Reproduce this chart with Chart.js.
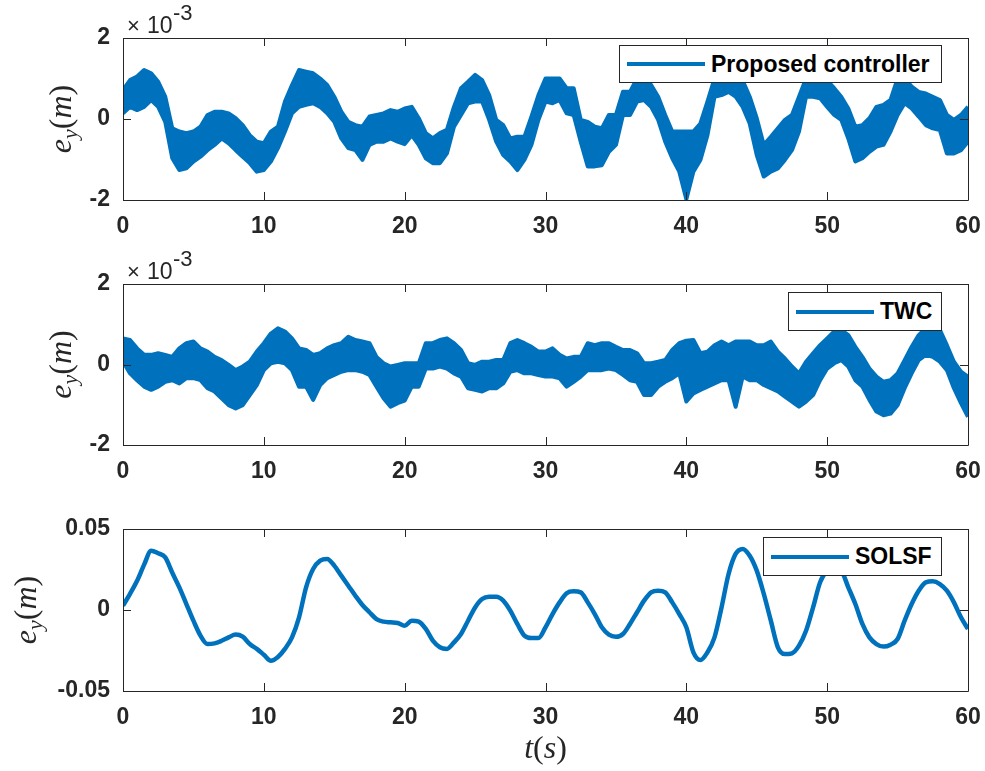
<!DOCTYPE html>
<html>
<head>
<meta charset="utf-8">
<script src="https://cdn.jsdelivr.net/npm/chart.js@4.4.1/dist/chart.umd.min.js"></script>
<style>
  body { margin: 0; background: #fff; }
  #wrap { position: relative; width: 985px; height: 771px; overflow: hidden; }
  #wrap canvas { position: absolute; left: 0; }
  .legend {
    position: absolute; z-index: 2; background: #fff; border: 1px solid #262626;
    box-sizing: border-box; display: flex; align-items: center;
    font: bold 23px 'Liberation Sans', Arial, sans-serif; color: #000; white-space: nowrap;
  }
  .legend .swatch { width: 78px; height: 4px; background: #0072bd; margin: 0 6px 0 7px; flex: none; }
</style>
</head>
<body>
<div id="wrap">
  <canvas id="propChart" width="985" height="240" style="top:0px"></canvas>
  <canvas id="twcChart" width="985" height="240" style="top:244px"></canvas>
  <canvas id="solsfChart" width="985" height="283" style="top:488px"></canvas>
  <div class="legend" id="leg0" style="left:619px;top:45px;width:323px;height:38px"></div>
  <div class="legend" id="leg1" style="left:788px;top:292px;width:154px;height:39px"></div>
  <div class="legend" id="leg2" style="left:763px;top:537px;width:179px;height:39px"></div>
</div>
<script>
// time axis (s), one sample every 0.5 s
const timeS = [0,0.5,1,1.5,2,2.5,3,3.5,4,4.5,5,5.5,6,6.5,7,7.5,8,8.5,9,9.5,10,10.5,11,11.5,12,12.5,13,13.5,14,14.5,15,15.5,16,16.5,17,17.5,18,18.5,19,19.5,20,20.5,21,21.5,22,22.5,23,23.5,24,24.5,25,25.5,26,26.5,27,27.5,28,28.5,29,29.5,30,30.5,31,31.5,32,32.5,33,33.5,34,34.5,35,35.5,36,36.5,37,37.5,38,38.5,39,39.5,40,40.5,41,41.5,42,42.5,43,43.5,44,44.5,45,45.5,46,46.5,47,47.5,48,48.5,49,49.5,50,50.5,51,51.5,52,52.5,53,53.5,54,54.5,55,55.5,56,56.5,57,57.5,58,58.5,59,59.5,60];

const legendLabels = ['Proposed controller', 'TWC', 'SOLSF'];

// proposed controller, noisy band: upper / lower envelope (x 10^-3 m)
const propUpper = [
  0.72,0.96,1.05,1.21,1.13,0.92,0.55,-0.23,-0.31,-0.35,
  -0.31,-0.19,0.10,0.18,0.18,0.14,0.02,-0.15,-0.40,-0.56,
  -0.60,-0.31,-0.19,0.43,0.84,1.21,1.17,1.13,1.00,0.84,
  0.55,0.18,-0.07,-0.15,-0.19,0.06,0.10,0.14,0.22,0.18,
  0.26,0.30,0.02,-0.35,-0.48,-0.35,-0.27,0.30,0.76,0.92,
  1.09,0.96,0.59,-0.02,-0.15,-0.48,-0.44,-0.44,0.06,0.59,
  1.00,1.00,1.00,0.76,0.76,-0.02,-0.07,-0.19,-0.23,0.10,
  0.10,0.67,0.67,1.00,0.96,0.84,0.55,0.10,-0.31,-0.31,
  -0.31,-0.31,-0.11,0.43,1.00,1.05,1.05,1.00,0.95,0.55,
  0.02,-0.64,-0.44,-0.23,-0.02,0.10,0.55,1.00,1.00,1.00,
  0.95,0.76,0.55,0.26,-0.19,-0.15,0.02,0.30,0.35,0.47,
  1.00,1.00,0.80,0.67,0.63,0.55,0.47,0.10,-0.02,0.10,
  0.30];
const propLower = [
  0.14,0.30,0.22,0.30,0.47,0.30,-0.07,-0.97,-1.26,-1.22,
  -1.05,-0.93,-0.77,-0.64,-0.48,-0.60,-0.77,-0.93,-1.09,-1.30,
  -1.26,-1.05,-0.72,-0.31,0.14,0.30,0.35,0.39,0.30,0.14,
  -0.07,-0.48,-0.72,-0.77,-1.01,-0.64,-0.56,-0.56,-0.48,-0.56,
  -0.62,-0.40,-0.64,-0.97,-1.09,-1.09,-0.85,-0.19,0.10,0.39,
  0.43,0.43,-0.02,-0.56,-0.89,-1.05,-1.26,-1.01,-0.64,-0.02,
  0.43,0.39,0.47,0.14,0.10,-0.56,-1.17,-1.17,-1.14,-0.81,
  -0.64,0.10,0.10,0.43,0.47,0.30,-0.02,-0.56,-0.97,-1.30,
  -1.98,-1.30,-1.01,-0.40,0.55,0.59,0.67,0.55,0.30,-0.11,
  -0.89,-1.42,-1.30,-1.22,-1.01,-0.77,-0.31,0.55,0.55,0.51,
  0.30,0.10,-0.02,-0.48,-1.05,-0.97,-0.81,-0.68,-0.64,-0.31,
  0.10,0.39,0.26,0.06,-0.15,-0.23,-0.27,-0.85,-0.85,-0.77,
  -0.56];

// TWC, noisy band (x 10^-3 m)
const twcUpper = [
  0.65,0.61,0.40,0.24,0.24,0.28,0.24,0.19,0.40,0.53,
  0.57,0.40,0.32,0.19,0.11,-0.01,-0.14,-0.05,0.07,0.32,
  0.53,0.77,0.90,0.82,0.65,0.40,0.36,0.24,0.28,0.40,
  0.48,0.53,0.69,0.61,0.57,0.53,0.19,0.03,-0.05,-0.01,
  0.03,0.03,0.03,0.53,0.53,0.61,0.65,0.53,0.36,0.03,
  -0.01,0.07,0.07,0.11,0.11,0.53,0.61,0.53,0.44,0.32,
  0.32,0.40,0.24,0.15,0.19,0.19,0.53,0.48,0.53,0.53,
  0.44,0.36,0.36,0.28,0.03,0.03,0.07,0.11,0.36,0.53,
  0.59,0.61,0.28,0.32,0.48,0.57,0.48,0.57,0.57,0.57,
  0.48,0.48,0.57,0.32,0.15,-0.05,-0.22,0.07,0.28,0.48,
  0.65,0.82,0.86,0.73,0.44,0.19,-0.10,-0.30,-0.43,-0.39,
  -0.22,0.11,0.44,0.73,0.90,0.90,0.86,0.48,0.07,-0.18,
  -0.30];
const twcLower = [
  0.07,-0.22,-0.39,-0.55,-0.63,-0.55,-0.43,-0.39,-0.47,-0.34,
  -0.34,-0.39,-0.59,-0.67,-0.84,-1.01,-1.09,-1.01,-0.76,-0.51,
  -0.14,0.03,0.07,0.03,-0.14,-0.55,-0.55,-0.88,-0.51,-0.34,
  -0.26,-0.18,-0.14,-0.14,-0.18,-0.26,-0.55,-0.84,-1.05,-0.96,
  -0.90,-0.55,-0.55,-0.10,-0.10,-0.05,-0.10,-0.22,-0.30,-0.59,
  -0.63,-0.67,-0.59,-0.59,-0.47,-0.18,-0.14,-0.22,-0.22,-0.26,
  -0.30,-0.30,-0.34,-0.55,-0.43,-0.30,-0.14,-0.14,-0.14,-0.10,
  -0.14,-0.26,-0.39,-0.43,-0.76,-0.76,-0.55,-0.43,-0.34,-0.22,
  -0.92,-0.72,-0.63,-0.55,-0.47,-0.39,-0.39,-1.05,-0.30,-0.39,
  -0.39,-0.51,-0.59,-0.67,-0.80,-0.92,-1.05,-0.92,-0.76,-0.39,
  -0.10,0.03,0.11,-0.05,-0.39,-0.55,-0.88,-1.17,-1.26,-1.22,
  -1.01,-0.59,-0.22,0.11,0.24,0.19,0.07,-0.14,-0.59,-0.96,
  -1.30];

// SOLSF (m)
const solsf = [
  0.0027,0.0100,0.0180,0.0280,0.0366,0.0350,0.0325,0.0230,0.0140,0.0037,
  -0.0066,-0.0158,-0.0210,-0.0206,-0.0190,-0.0169,-0.0152,-0.0165,-0.0210,-0.0240,
  -0.0276,-0.0313,-0.0290,-0.0240,-0.0169,-0.0045,0.0140,0.0253,0.0305,0.0315,
  0.0274,0.0212,0.0150,0.0088,0.0031,-0.0014,-0.0056,-0.0072,-0.0076,-0.0080,
  -0.0097,-0.0066,-0.0072,-0.0117,-0.0189,-0.0230,-0.0240,-0.0200,-0.0148,-0.0066,
  0.0016,0.0068,0.0082,0.0082,0.0058,-0.0004,-0.0086,-0.0158,-0.0173,-0.0173,
  -0.0107,-0.0025,0.0047,0.0103,0.0115,0.0109,0.0047,-0.0025,-0.0107,-0.0152,
  -0.0165,-0.0148,-0.0086,-0.0014,0.0058,0.0109,0.0119,0.0109,0.0047,-0.0025,
  -0.0107,-0.0261,-0.0309,-0.0261,-0.0169,0.0016,0.0222,0.0346,0.0377,0.0335,
  0.0243,0.0099,-0.0066,-0.0230,-0.0272,-0.0267,-0.0220,-0.0128,0.0016,0.0171,
  0.0243,0.0260,0.0243,0.0140,0.0037,-0.0086,-0.0169,-0.0210,-0.0226,-0.0214,
  -0.0179,-0.0066,0.0037,0.0119,0.0171,0.0177,0.0160,0.0119,0.0047,-0.0045,
  -0.0117];

const smallTicks = [-2, 0, 2];
const bigTicks = [-0.05, 0, 0.05];

const blue = '#0072bd';
const axisColor = '#262626';
const sans = "'Liberation Sans', Arial, sans-serif";
const serif = "'Liberation Serif', 'DejaVu Serif', serif";

const toPoints = vals => vals.map((v, i) => ({ x: timeS[i], y: v }));

// draw a row of text pieces with different fonts, centred on x
function drawRuns(ctx, runs, x, y) {
    let w = 0;
    runs.forEach(r => { ctx.font = r.font; w += ctx.measureText(r.text).width; });
    let cx = x - w / 2;
    runs.forEach(r => {
        ctx.font = r.font;
        ctx.fillText(r.text, cx, y + (r.dy || 0));
        cx += ctx.measureText(r.text).width;
    });
}

// MATLAB style box, inward ticks and the math labels
const boxPlugin = {
    id: 'matlabBox',
    afterDatasetsDraw(chart, args, opts) {
        const { ctx, chartArea: a, scales: { x, y } } = chart;
        ctx.save();
        ctx.strokeStyle = axisColor;
        ctx.lineWidth = 1;
        ctx.beginPath();
        ctx.rect(Math.round(a.left) + 0.5, Math.round(a.top) + 0.5,
            Math.round(a.right - a.left), Math.round(a.bottom - a.top));
        x.ticks.forEach(t => {
            const px = Math.round(x.getPixelForValue(t.value)) + 0.5;
            ctx.moveTo(px, a.bottom); ctx.lineTo(px, a.bottom - 8);
            ctx.moveTo(px, a.top); ctx.lineTo(px, a.top + 8);
        });
        y.ticks.forEach(t => {
            const py = Math.round(y.getPixelForValue(t.value)) + 0.5;
            ctx.moveTo(a.left, py); ctx.lineTo(a.left + 8, py);
            ctx.moveTo(a.right, py); ctx.lineTo(a.right - 8, py);
        });
        ctx.stroke();
        ctx.restore();
    },
    afterDraw(chart, args, opts) {
        const { ctx, chartArea: a } = chart;
        ctx.save();
        ctx.fillStyle = axisColor;
        ctx.textBaseline = 'alphabetic';

        // e_y(m), rotated
        ctx.save();
        ctx.translate(opts.yLabelX, (a.top + a.bottom) / 2);
        ctx.rotate(-Math.PI / 2);
        drawRuns(ctx, [
            { text: 'e', font: 'italic 32px ' + serif },
            { text: 'y', font: 'italic 22px ' + serif, dy: 6 },
            { text: '(', font: '32px ' + serif },
            { text: 'm', font: 'italic 32px ' + serif },
            { text: ')', font: '32px ' + serif }
        ], 0, 9);
        ctx.restore();

        if (opts.exponent) {
            ctx.textAlign = 'left';
            const base = a.top - 5;
            ctx.font = '22px ' + sans;
            ctx.fillText('\u00d7', a.left + 4, base);
            ctx.font = '23px ' + sans;
            ctx.fillText('10', a.left + 24, base);
            ctx.font = '22px ' + sans;
            ctx.fillText('-3', a.left + 50, base - 13);
        }
        if (opts.xTitle) {
            drawRuns(ctx, [
                { text: 't', font: 'italic 32px ' + serif },
                { text: '(', font: '32px ' + serif },
                { text: 's', font: 'italic 32px ' + serif },
                { text: ')', font: '32px ' + serif }
            ], (a.left + a.right) / 2, a.bottom + 67);
        }
        ctx.restore();
    }
};

function bandSets(label, upper, lower) {
    return [
        { label: label, data: toPoints(upper), borderColor: blue, borderWidth: 4,
          borderJoinStyle: 'round', backgroundColor: blue, fill: false, pointRadius: 0, tension: 0 },
        { label: label, data: toPoints(lower), borderColor: blue, borderWidth: 4,
          borderJoinStyle: 'round', backgroundColor: blue, fill: '-1', pointRadius: 0, tension: 0 }
    ];
}

function makePanel(id, datasets, yMin, yMax, yStep, yFmt, padTop, xHeight, deco) {
    const tickFont = { family: sans, size: 23, weight: 'bold' };
    return new Chart(document.getElementById(id), {
        type: 'line',
        data: { datasets: datasets },
        options: {
            responsive: false,
            animation: false,
            devicePixelRatio: 1,
            layout: { padding: { top: padTop, right: 17, left: 0, bottom: 0 } },
            plugins: {
                legend: { display: false },
                tooltip: { enabled: false },
                matlabBox: deco
            },
            scales: {
                x: {
                    type: 'linear', min: 0, max: 60,
                    grid: { display: false, drawTicks: false },
                    border: { display: false },
                    ticks: { stepSize: 10, autoSkip: false, maxRotation: 0, color: axisColor,
                             padding: 13, font: tickFont },
                    afterFit: s => { s.height = xHeight; s.paddingLeft = 0; s.paddingRight = 0; }
                },
                y: {
                    min: yMin, max: yMax,
                    grid: { display: false, drawTicks: false },
                    border: { display: false },
                    ticks: { stepSize: yStep, autoSkip: false, color: axisColor, padding: 13,
                             font: tickFont, callback: yFmt },
                    afterFit: s => { s.width = 123; s.paddingTop = 0; s.paddingBottom = 0; }
                }
            }
        },
        plugins: [boxPlugin]
    });
}

const fmtSmall = v => (Math.abs(v) < 1e-9 ? '0' : String(v));
const fmtBig = v => (Math.abs(v) < 1e-9 ? '0' : v.toFixed(2));

makePanel('propChart', bandSets(legendLabels[0], propUpper, propLower),
    smallTicks[0], smallTicks[2], 2, fmtSmall, 38, 40,
    { yLabelX: 62, exponent: true, xTitle: false });

makePanel('twcChart', bandSets(legendLabels[1], twcUpper, twcLower),
    smallTicks[0], smallTicks[2], 2, fmtSmall, 40, 39,
    { yLabelX: 62, exponent: true, xTitle: false });

makePanel('solsfChart', [
    { label: legendLabels[2], data: toPoints(solsf), borderColor: blue, borderWidth: 4.5,
      fill: false, pointRadius: 0, cubicInterpolationMode: 'monotone' }
], bigTicks[0], bigTicks[2], 0.05, fmtBig, 41, 80,
    { yLabelX: 27, exponent: false, xTitle: true });

// legends
legendLabels.forEach((name, i) => {
    const box = document.getElementById('leg' + i);
    const sw = document.createElement('span');
    sw.className = 'swatch';
    const tx = document.createElement('span');
    tx.textContent = name;
    box.appendChild(sw);
    box.appendChild(tx);
});
</script>
</body>
</html>
